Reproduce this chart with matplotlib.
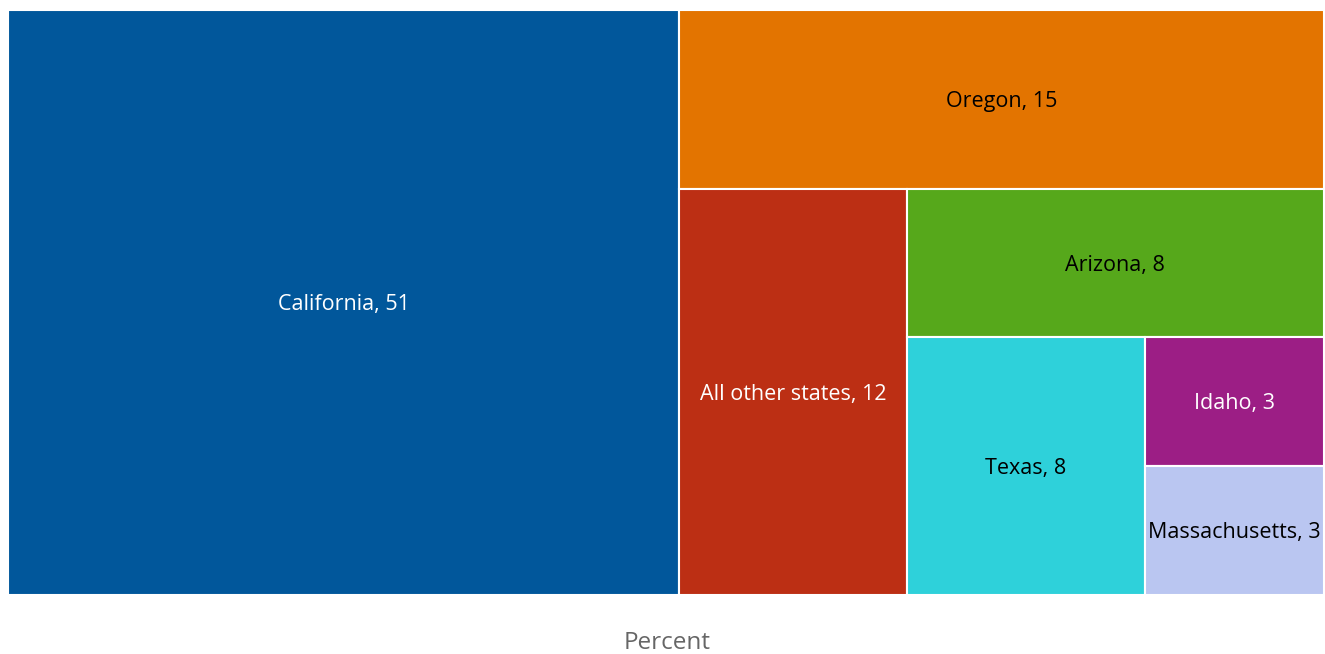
import matplotlib.pyplot as plt
from matplotlib.patches import Rectangle

plt.rcParams['font.family'] = ['Open Sans', 'DejaVu Sans']

# Données du treemap
etats = ["California", "Oregon", "All other states", "Arizona", "Texas", "Idaho", "Massachusetts"]
pourcentages = [51, 15, 12, 8, 8, 3, 3]
couleurs = ["#01579B", "#E37400", "#BC2F14", "#56A81B", "#2ED1DA", "#9C1E85", "#BAC6F1"]
couleurs_texte = ["white", "black", "white", "black", "black", "white", "black"]


def decoupe(valeurs, x, y, w, h):
    # slice-and-dice alterné: vertical puis horizontal
    rects = []
    reste = sum(valeurs)
    vertical = True
    for v in valeurs:
        frac = v / reste
        if vertical:
            dw = w * frac
            rects.append((x, y, dw, h))
            x += dw
            w -= dw
        else:
            dh = h * frac
            rects.append((x, y + h - dh, w, dh))
            h -= dh
        reste -= v
        vertical = not vertical
    return rects


fig = plt.figure(figsize=(13.25, 6.54), dpi=100)
ax = fig.add_axes([8 / 1325, 1 - 595 / 654, 1316 / 1325, 585 / 654])

rects = decoupe(pourcentages, 0, 0, 1, 1)
for (x, y, w, h), nom, val, c, tc in zip(rects, etats, pourcentages, couleurs, couleurs_texte):
    ax.add_patch(Rectangle((x, y), w, h, facecolor=c, edgecolor="white", linewidth=1.5))
    ax.text(x + w / 2, y + h / 2 - 0.004, f"{nom}, {val}", ha="center", va="center",
            fontsize=15.5, color=tc)

ax.set_xlim(0, 1)
ax.set_ylim(0, 1)
ax.axis("off")

fig.text(667 / 1325, 1 - 643 / 654, "Percent", ha="center", va="center",
         fontsize=17.5, color="#666666")

fig.savefig("out.png", dpi=100)
